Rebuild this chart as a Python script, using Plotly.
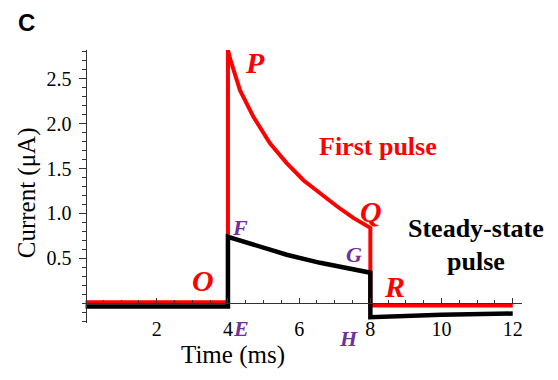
import numpy as np
import plotly.graph_objects as go

# ---- data ----
first_t = [0.0, 4.0, 4.0, 4.07, 4.34, 4.71, 5.18, 5.65, 6.12, 6.59, 7.06, 7.52, 8.0, 8.0, 12.0]
first_i = [0.01, 0.01, 2.82, 2.71, 2.37, 2.08, 1.78, 1.56, 1.37, 1.22, 1.08, 0.95, 0.84, -0.025, -0.025]

steady_t = [0.0, 4.0, 4.0, 4.71, 5.65, 6.59, 7.52, 8.0, 8.0, 10.0, 12.0]
steady_i = [-0.035, -0.035, 0.74, 0.65, 0.54, 0.45, 0.37, 0.34, -0.155, -0.128, -0.115]

x_tick_vals = [2, 4, 6, 8, 10, 12]
x_tick_text = ["2", "4", "6", "8", "10", "12"]
y_tick_vals = [0, 0.5, 1.0, 1.5, 2.0, 2.5]
y_tick_text = ["", "0.5", "1.0", "1.5", "2.0", "2.5"]

x_title = "Time (ms)"
y_title = "Current (μA)"
panel_label = "C"

RED = "#ff0000"
PURPLE = "#7030a0"
FONT = "Liberation Serif"

XR = [-0.1, 12.26]
YR = [-0.22, 2.82]

def to_paper(x, y):
    return (x - XR[0]) / (XR[1] - XR[0]), (y - YR[0]) / (YR[1] - YR[0])

fig = go.Figure()
fig.add_trace(go.Scatter(x=first_t, y=first_i, mode="lines",
                         line=dict(color=RED, width=4), hoverinfo="skip"))
fig.add_trace(go.Scatter(x=steady_t, y=steady_i, mode="lines",
                         line=dict(color="black", width=4.5), hoverinfo="skip"))

fig.update_layout(
    width=558, height=380,
    margin=dict(l=82, r=36, t=50, b=57),
    paper_bgcolor="white", plot_bgcolor="white",
    font=dict(family=FONT, size=20, color="black"),
    showlegend=False,
)
fig.update_xaxes(range=XR, anchor="free", position=to_paper(0, 0)[1],
                 showgrid=False, zeroline=False, showline=True, linecolor="#333",
                 linewidth=1, tickcolor="#333", tickwidth=1,
                 tickmode="array", tickvals=x_tick_vals, ticktext=x_tick_text,
                 ticks="inside", ticklen=5, ticklabelstandoff=8,
                 tickfont=dict(family=FONT, size=20, color="black"),
                 minor=dict(tickvals=list(np.arange(0.5, 12.01, 0.5)), ticks="inside",
                            ticklen=3, tickcolor="#333", tickwidth=1))
fig.update_yaxes(range=YR, anchor="free", position=to_paper(0, 0)[0],
                 showgrid=False, zeroline=False, showline=True, linecolor="#333",
                 linewidth=1, tickcolor="#333", tickwidth=1,
                 tickmode="array", tickvals=y_tick_vals, ticktext=y_tick_text,
                 ticks="outside", ticklen=7, ticklabelstandoff=3,
                 tickfont=dict(family=FONT, size=20, color="black"),
                 minor=dict(tickvals=list(np.round(np.arange(-0.2, 2.81, 0.1), 2)), ticks="outside",
                            ticklen=4, tickcolor="#333", tickwidth=1))

def ann(text, x, y, size, color, angle=0, bold=True, italic=True, family=FONT, paper=False):
    t = text
    if italic:
        t = f"<i>{t}</i>"
    if bold:
        t = f"<b>{t}</b>"
    px, py = (x, y) if paper else to_paper(x, y)
    fig.add_annotation(text=t, x=px, y=py, xref="paper", yref="paper",
                       showarrow=False, textangle=angle,
                       xanchor="center", yanchor="middle",
                       font=dict(family=family, size=size, color=color))

# point labels
ann("P", 4.76, 2.68, 30, RED)
ann("Q", 8.01, 1.02, 30, RED)
ann("O", 3.29, 0.25, 30, RED)
ann("R", 8.67, 0.19, 30, RED)
ann("F", 4.34, 0.84, 22, PURPLE)
ann("G", 7.54, 0.54, 22, PURPLE)
ann("E", 4.38, -0.28, 22, PURPLE)
ann("H", 7.40, -0.39, 22, PURPLE)

# series labels
ann("First pulse", 8.22, 1.75, 26, RED, italic=False)
ann("Steady-state", 10.98, 0.83, 26, "black", italic=False)
ann("pulse", 10.98, 0.47, 26, "black", italic=False)

# axis titles
ann(x_title, 4.14, -0.572, 25, "black", bold=False, italic=False)
ann(y_title, -1.66, 1.23, 25, "black", angle=-90, bold=False, italic=False)

# panel label
ann(panel_label, -0.127, 1.10, 24, "black", italic=False, family="Liberation Sans", paper=True)

fig.write_html("out.html")
